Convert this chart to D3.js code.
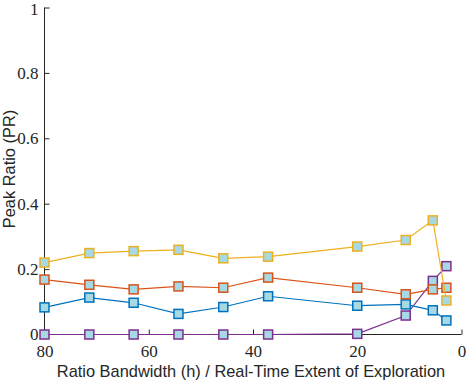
<!DOCTYPE html>
<html><head><meta charset="utf-8">
<script src="https://cdn.jsdelivr.net/npm/d3@7"></script>
<style>body{margin:0;background:#fff}svg{display:block}</style>
</head><body>
<script>
const xValues = [80, 71.4, 62.9, 54.3, 45.7, 37.1, 20, 10.7, 5.5, 2.9];
const yellowSeries = [0.220, 0.249, 0.255, 0.259, 0.233, 0.238, 0.269, 0.289, 0.349, 0.104];
const orangeSeries = [0.168, 0.152, 0.138, 0.147, 0.143, 0.174, 0.143, 0.123, 0.138, 0.143];
const blueSeries   = [0.083, 0.113, 0.097, 0.063, 0.084, 0.117, 0.088, 0.092, 0.074, 0.043];
const purpleSeries = [0, 0, 0, 0, 0, 0, 0.002, 0.058, 0.164, 0.209];
const xTicks = [80, 60, 40, 20, 0];
const yTicks = [0, 0.2, 0.4, 0.6, 0.8, 1];
const yTickLabels = ["0", "0.2", "0.4", "0.6", "0.8", "1"];

const W = 466, H = 382;
const svg = d3.select("body").append("svg").attr("width", W).attr("height", H);
const x = d3.scaleLinear().domain([80, 0]).range([44.5, 461.5]);
const y = d3.scaleLinear().domain([0, 1]).range([334.5, 7.5]);
const axisColor = "#262626";
const serif = "'Liberation Serif', 'DejaVu Serif', serif";
const sans = "'Liberation Sans', Arial, sans-serif";

const gx = svg.append("g").attr("transform", `translate(0,${y(0)})`)
  .call(d3.axisBottom(x).tickValues(xTicks).tickSize(-5).tickPadding(10).tickFormat(d3.format("d")));
const gy = svg.append("g").attr("transform", `translate(${x(80)},0)`)
  .call(d3.axisLeft(y).tickValues(yTicks).tickSize(-5).tickPadding(6).tickFormat((d,i)=>yTickLabels[i]));
[gx, gy].forEach(g => {
  g.select(".domain").attr("stroke", axisColor).attr("stroke-width", 1);
  g.selectAll(".tick line").attr("stroke", axisColor).attr("stroke-width", 1);
  g.selectAll(".tick text").attr("fill", axisColor).style("font-family", serif).style("font-size", "17px");
});
gx.select(".domain").attr("d", `M${x(80)},0H${x(0)}`);
gy.select(".domain").attr("d", `M0,${y(1)}V${y(0)}`);
gx.selectAll(".tick text").attr("dy", "0.71em");
gy.selectAll(".tick").filter(d => d === 1).select("text").attr("y", 1.5);

svg.append("text").attr("x", 251).attr("y", 377).attr("text-anchor", "middle")
  .style("font-family", sans).style("font-size", "16.4px").attr("fill", axisColor)
  .text("Ratio Bandwidth (h) / Real-Time Extent of Exploration");
svg.append("text").attr("transform", "translate(15,169) rotate(-90)").attr("text-anchor", "middle")
  .style("font-family", sans).style("font-size", "16.4px").attr("fill", axisColor)
  .text("Peak Ratio (PR)");

const series = [
  {vals: purpleSeries, color: "#7E2F8E"},
  {vals: blueSeries, color: "#0072BD"},
  {vals: orangeSeries, color: "#D95319"},
  {vals: yellowSeries, color: "#EDB120"}
];
const line = d3.line().x((d,i)=>x(xValues[i])).y(d=>y(d));
series.forEach(s => {
  const g = svg.append("g");
  g.append("path").datum(s.vals).attr("d", line).attr("fill", "none")
    .attr("stroke", s.color).attr("stroke-width", 1.2);
  g.selectAll("rect").data(s.vals).join("rect")
    .attr("x", (d,i)=>x(xValues[i]) - 4.5).attr("y", d=>y(d) - 4.5)
    .attr("width", 9).attr("height", 9)
    .attr("fill", "#a6d9e4").attr("stroke", s.color).attr("stroke-width", 1.5);
});
</script>
</body></html>
